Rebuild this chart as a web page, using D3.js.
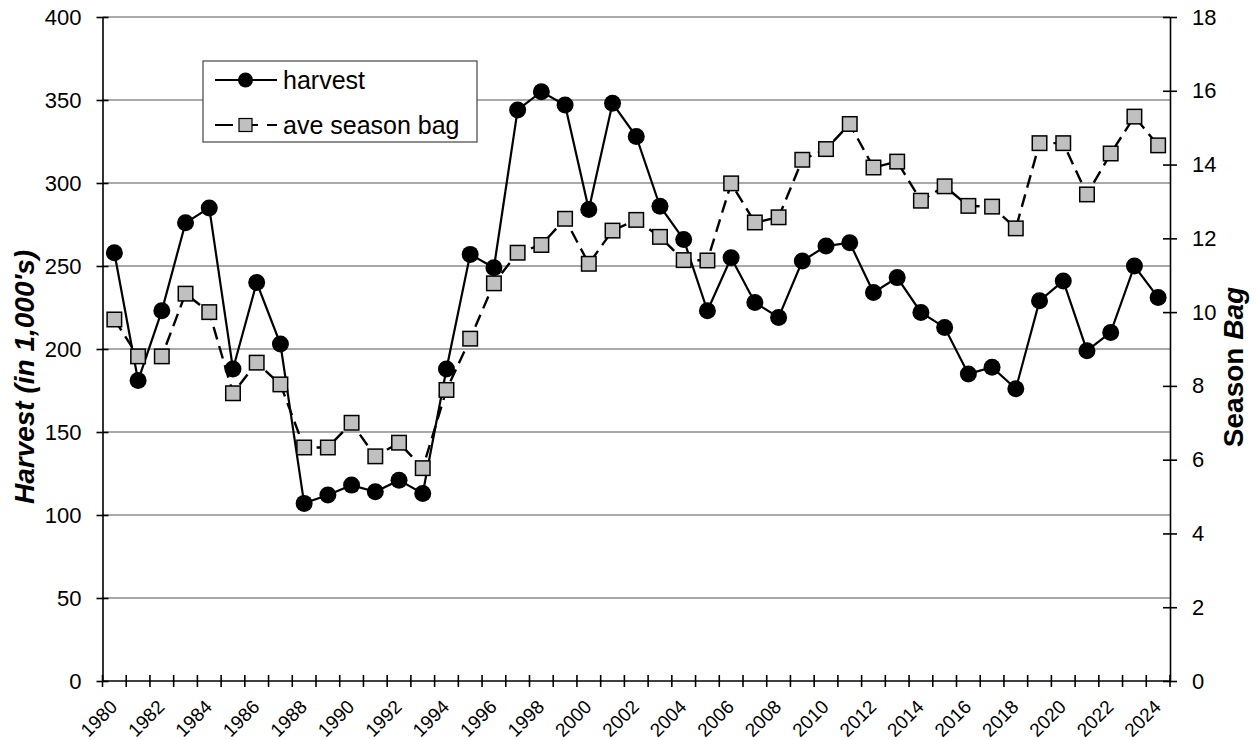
<!DOCTYPE html>
<html>
<head>
<meta charset="utf-8">
<script src="https://cdn.jsdelivr.net/npm/d3@7"></script>
<style>
  body { margin: 0; background: #fff; }
  svg { font-family: "Liberation Sans", Arial, sans-serif; }
  .grid line { stroke: #8c8c8c; stroke-width: 1.3; }
  .axis path, .axis line { stroke: #000; stroke-width: 1.6; }
  .axis text { font-size: 22px; fill: #000; }
</style>
</head>
<body>
<svg id="chart" width="1257" height="740"></svg>
<script>
// years on the category axis
var years = d3.range(1980, 2025);

// harvest, in 1,000's (left axis)
var harvest = [258, 181, 223, 276, 285, 188, 240, 203, 107, 112, 118, 114, 121, 113, 188,
               257, 249, 344, 355, 347, 284, 348, 328, 286, 266, 223, 255, 228, 219, 253,
               262, 264, 234, 243, 222, 213, 185, 189, 176, 229, 241, 199, 210, 250, 231];

// average season bag (right axis)
var seasonBag = [9.8, 8.8, 8.8, 10.5, 10.0, 7.8, 8.63, 8.04, 6.33, 6.33, 7.0, 6.09, 6.46, 5.77, 7.89,
                 9.28, 10.78, 11.61, 11.82, 12.53, 11.31, 12.21, 12.5, 12.04, 11.41, 11.4, 13.49, 12.43, 12.57, 14.13,
                 14.42, 15.1, 13.92, 14.08, 13.02, 13.41, 12.88, 12.86, 12.27, 14.58, 14.58, 13.19, 14.3, 15.3, 14.52];

var leftTicks = d3.range(0, 401, 50);
var rightTicks = d3.range(0, 19, 2);
var labelYears = years.filter(function(y) { return y % 2 === 0; });

var plot = {left: 102.5, right: 1170, top: 17, bottom: 681};

var svg = d3.select("#chart");

var x = d3.scaleBand()
    .domain(years)
    .range([plot.left, plot.right])
    .padding(0);
var cx = function(yr) { return x(yr) + x.bandwidth() / 2; };

var yL = d3.scaleLinear().domain([0, 400]).range([plot.bottom, plot.top]);
var yR = d3.scaleLinear().domain([0, 18]).range([plot.bottom, plot.top]);

// horizontal gridlines
svg.append("g").attr("class", "grid")
  .selectAll("line")
  .data(leftTicks.filter(function(d) { return d > 0; }))
  .enter().append("line")
    .attr("x1", plot.left).attr("x2", plot.right)
    .attr("y1", function(d) { return yL(d); })
    .attr("y2", function(d) { return yL(d); });

// left axis
var gL = svg.append("g").attr("class", "axis")
    .attr("transform", "translate(" + plot.left + ",0)")
    .call(d3.axisLeft(yL).tickValues(leftTicks).tickSize(6).tickPadding(15).tickSizeOuter(0));
gL.selectAll(".tick line").attr("x1", 6).attr("x2", -6);

// right axis
var gR = svg.append("g").attr("class", "axis")
    .attr("transform", "translate(" + plot.right + ",0)")
    .call(d3.axisRight(yR).tickValues(rightTicks).tickSize(7).tickPadding(15).tickSizeOuter(0));
gR.selectAll(".tick line").attr("x1", -7).attr("x2", 7);

// bottom axis: tick marks at category edges
var gB = svg.append("g").attr("class", "axis")
    .attr("transform", "translate(0," + plot.bottom + ")");
gB.append("line")
    .attr("x1", plot.left).attr("x2", plot.right)
    .attr("stroke", "#000").attr("stroke-width", 1.6);
gB.selectAll(".edge")
  .data(years.concat([2025]))
  .enter().append("line")
    .attr("class", "edge")
    .attr("x1", function(d) { return d === 2025 ? plot.right : x(d); })
    .attr("x2", function(d) { return d === 2025 ? plot.right : x(d); })
    .attr("y1", -6).attr("y2", 6)
    .attr("stroke", "#000").attr("stroke-width", 1.4);
gB.selectAll(".yr")
  .data(labelYears)
  .enter().append("text")
    .attr("class", "yr")
    .attr("text-anchor", "end")
    .style("font-size", "19px")
    .attr("transform", function(d) {
        return "translate(" + (cx(d) + 4) + ",27) rotate(-45)";
    })
    .text(function(d) { return d; });

// axis titles
svg.append("text")
    .attr("transform", "translate(24,377) rotate(-90)")
    .attr("text-anchor", "middle")
    .attr("dominant-baseline", "central")
    .attr("font-size", 28)
    .attr("font-weight", "bold")
    .attr("font-style", "italic")
    .text("Harvest (in 1,000's)");

var rt = svg.append("text")
    .attr("transform", "translate(1233,367) rotate(-90)")
    .attr("text-anchor", "middle")
    .attr("dominant-baseline", "central")
    .attr("font-size", 28)
    .attr("font-weight", "bold");
rt.append("tspan").text("Season ");
rt.append("tspan").attr("font-style", "italic").text("Bag");

// harvest series
var harvestLine = d3.line()
    .x(function(d, i) { return cx(years[i]); })
    .y(function(d) { return yL(d); });

svg.append("path")
    .datum(harvest)
    .attr("d", harvestLine)
    .attr("fill", "none")
    .attr("stroke", "#000")
    .attr("stroke-width", 2.2);

svg.selectAll(".harvestDot")
  .data(harvest)
  .enter().append("circle")
    .attr("class", "harvestDot")
    .attr("cx", function(d, i) { return cx(years[i]); })
    .attr("cy", function(d) { return yL(d); })
    .attr("r", 8.5)
    .attr("fill", "#000");

// season bag series
var bagLine = d3.line()
    .x(function(d, i) { return cx(years[i]); })
    .y(function(d) { return yR(d); });

svg.append("path")
    .datum(seasonBag)
    .attr("d", bagLine)
    .attr("fill", "none")
    .attr("stroke", "#000")
    .attr("stroke-width", 2.4)
    .attr("stroke-dasharray", "13,7");

var sq = 14.5;
svg.selectAll(".bagSq")
  .data(seasonBag)
  .enter().append("rect")
    .attr("class", "bagSq")
    .attr("x", function(d, i) { return cx(years[i]) - sq / 2; })
    .attr("y", function(d) { return yR(d) - sq / 2; })
    .attr("width", sq).attr("height", sq)
    .attr("fill", "#c0c0c0")
    .attr("stroke", "#000")
    .attr("stroke-width", 1.5);

// legend
var lg = svg.append("g").attr("transform", "translate(203,61)");
lg.append("rect")
    .attr("width", 274).attr("height", 81)
    .attr("fill", "#fff")
    .attr("stroke", "#444")
    .attr("stroke-width", 1.2);
lg.append("line")
    .attr("x1", 12).attr("x2", 74).attr("y1", 19).attr("y2", 19)
    .attr("stroke", "#000").attr("stroke-width", 2.2);
lg.append("circle").attr("cx", 42.5).attr("cy", 19).attr("r", 7.5).attr("fill", "#000");
lg.append("text").attr("x", 80).attr("y", 28).attr("font-size", 25).text("harvest");

lg.append("line")
    .attr("x1", 12).attr("x2", 74).attr("y1", 64).attr("y2", 64)
    .attr("stroke", "#000").attr("stroke-width", 2.2)
    .attr("stroke-dasharray", "18,19,6,9,10");
lg.append("rect")
    .attr("x", 36).attr("y", 57.5).attr("width", 13).attr("height", 13)
    .attr("fill", "#c0c0c0").attr("stroke", "#000").attr("stroke-width", 1.2);
lg.append("text").attr("x", 80).attr("y", 73).attr("font-size", 25).text("ave season bag");
</script>
</body>
</html>
